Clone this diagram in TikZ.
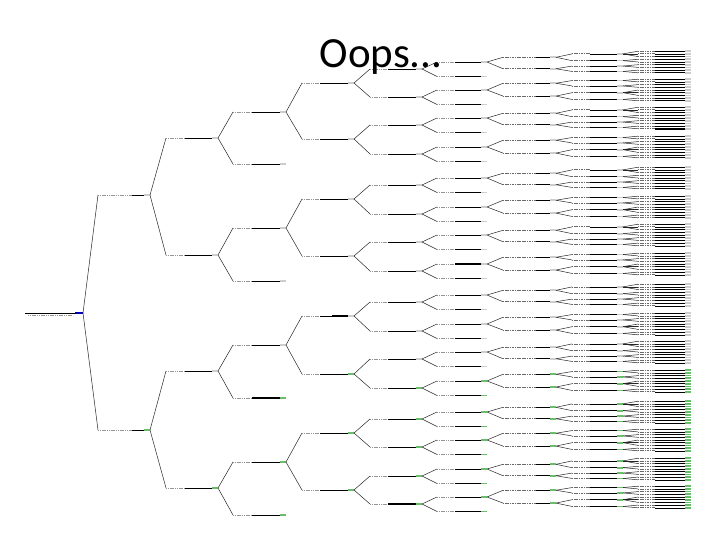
\documentclass[tikz,border=0pt]{standalone}
\usepackage{fontspec}
\setmainfont{Carlito}
\usetikzlibrary{calc}
\definecolor{gmark}{RGB}{105,190,105}
\definecolor{smark}{RGB}{205,205,205}
\definecolor{labc}{RGB}{150,150,150}
\definecolor{labd}{RGB}{105,105,105}
\tikzset{
  endcol/.store in=\endcol, hlw/.store in=\hlw,
  endcol=smark, hlw=0.6pt,
  gr/.style={endcol=gmark},
  bd/.style={hlw=1.8pt},
  conn/.style={draw=black!85, line width=0.5pt},
  lab/.style={draw=labc, line width=0.7pt, dash pattern=on 1.2pt off 0.6pt},
  labdark/.style={draw=labd, line width=0.8pt, dash pattern=on 1.2pt off 0.5pt},
  boldl/.style={draw=black, line width=1.8pt}
}
\newcommand\setlev[4]{\expandafter\def\csname xs#1\endcsname{#2}%
  \expandafter\def\csname xl#1\endcsname{#3}%
  \expandafter\def\csname xe#1\endcsname{#4}}
\setlev{1}{98}{132}{150}
\setlev{2}{166}{185}{218}
\setlev{3}{233}{252}{286}
\setlev{4}{302}{320}{354}
\setlev{5}{370}{388}{422}
\setlev{6}{437}{455}{487}
\setlev{7}{503}{536}{556}
\setlev{8}{572}{590}{623}
\setlev{9}{638}{655}{691}
% #1 style, #2 level, #3 parent, #4 child, #5 y
\newcommand\tedge[5][]{%
  \edef\exs{\csname xs#2\endcsname}\edef\exl{\csname xl#2\endcsname}\edef\exe{\csname xe#2\endcsname}%
  \ifnum#2>6 \def\labsty{labdark}\else\def\labsty{lab}\fi
  \coordinate (#4-s) at (\exs,#5);
  \coordinate (#4-l) at (\exl,#5);
  \coordinate (#4) at (\exe,#5);
  \coordinate (#4-m) at (\exe-6,#5);
  \begin{scope}[#1]
    \draw[conn] (#3) -- (#4-s);
    \draw[\labsty] (#4-s) -- (#4-l);
    \draw[draw=black, line width=\hlw] (#4-l) -- (#4-m);
    \draw[draw=\endcol, line width=1.7pt] (#4-m) -- (#4);
  \end{scope}}
% pattern A: 3,2,2,2
\newcommand\subA[3]{%
 \tedge[#1]{7}{#2}{#2a}{#3-4.7}
 \tedge[#1]{7}{#2}{#2b}{#3+6.75}
 \tedge[#1]{8}{#2a}{#2aa}{#3-8.1}
 \tedge[#1]{8}{#2a}{#2ab}{#3-1.35}
 \tedge[#1]{8}{#2b}{#2ba}{#3+4.05}
 \tedge[#1]{8}{#2b}{#2bb}{#3+9.45}
 \tedge[#1]{9}{#2aa}{#2aa1}{#3-10.8}
 \tedge[#1]{9}{#2aa}{#2aa2}{#3-8.1}
 \tedge[#1]{9}{#2aa}{#2aa3}{#3-5.4}
 \tedge[#1]{9}{#2ab}{#2ab1}{#3-2.7}
 \tedge[#1]{9}{#2ab}{#2ab2}{#3}
 \tedge[#1]{9}{#2ba}{#2ba1}{#3+2.7}
 \tedge[#1]{9}{#2ba}{#2ba2}{#3+5.4}
 \tedge[#1]{9}{#2bb}{#2bb1}{#3+8.1}
 \tedge[#1]{9}{#2bb}{#2bb2}{#3+10.8}}
% pattern B: 2,2,3,2
\newcommand\subB[3]{%
 \tedge[#1]{7}{#2}{#2a}{#3-6.75}
 \tedge[#1]{7}{#2}{#2b}{#3+6.075}
 \tedge[#1]{8}{#2a}{#2aa}{#3-9.45}
 \tedge[#1]{8}{#2a}{#2ab}{#3-4.05}
 \tedge[#1]{8}{#2b}{#2ba}{#3+2.7}
 \tedge[#1]{8}{#2b}{#2bb}{#3+9.45}
 \tedge[#1]{9}{#2aa}{#2aa1}{#3-10.8}
 \tedge[#1]{9}{#2aa}{#2aa2}{#3-8.1}
 \tedge[#1]{9}{#2ab}{#2ab1}{#3-5.4}
 \tedge[#1]{9}{#2ab}{#2ab2}{#3-2.7}
 \tedge[#1]{9}{#2ba}{#2ba1}{#3}
 \tedge[#1]{9}{#2ba}{#2ba2}{#3+2.7}
 \tedge[#1]{9}{#2ba}{#2ba3}{#3+5.4}
 \tedge[#1]{9}{#2bb}{#2bb1}{#3+8.1}
 \tedge[#1]{9}{#2bb}{#2bb2}{#3+10.8}}
% #1 style, #2 parent, #3 name, #4 y, #5 pattern
\newcommand\Lfive[5][]{%
  \tedge[#1]{5}{#2}{#3}{#4}
  \tedge[#1]{6}{#3}{#3c}{#4-7}
  \tedge[#1]{6}{#3}{#3l}{#4+7.5}
  \csname sub#5\endcsname{#1}{#3c}{#4-7}}
\begin{document}
\begin{tikzpicture}[x=1pt,y=-1pt]
\fill[white] (0,0) rectangle (720,540);
\useasboundingbox (0,0) rectangle (720,540);
% root
\coordinate (Rs) at (25,313);
\coordinate (Rb) at (75,313);
\coordinate (R) at (83,313);
\draw[draw=black, line width=0.6pt] (Rs) -- (Rb);
\draw[draw=blue!70!black, line width=1.2pt] (Rb) -- (R);
\draw[lab] ($(Rs)+(3,2.5)$) -- ($(Rb)+(-2,2.5)$);
% level 1
\tedge{1}{R}{A}{195}
\tedge[gr]{1}{R}{B}{430}
% level 2
\tedge{2}{A}{AA}{138}
\tedge{2}{A}{AB}{255}
\tedge{2}{B}{BA}{371}
\tedge[gr]{2}{B}{BB}{488}
% level 3
\tedge{3}{AA}{AAA}{112}
\tedge{3}{AA}{AAB}{164}
\tedge{3}{AB}{ABA}{228}
\tedge{3}{AB}{ABB}{281}
\tedge{3}{BA}{BAA}{345}
\tedge[gr,bd]{3}{BA}{BAB}{398}
\tedge[gr]{3}{BB}{BBA}{462}
\tedge[gr]{3}{BB}{BBB}{515}
% level 4
\tedge{4}{AAA}{P1}{83}
\tedge{4}{AAA}{P2}{139}
\tedge{4}{ABA}{P3}{199}
\tedge{4}{ABA}{P4}{256}
\tedge{4}{BAA}{P5}{316}
\tedge[gr]{4}{BAA}{P6}{374}
\tedge[gr]{4}{BBA}{P7}{433}
\tedge[gr]{4}{BBA}{P8}{490}
% levels 5-9
\Lfive{P1}{P1a}{69}{A}
\Lfive{P1}{P1b}{97}{B}
\Lfive{P2}{P2a}{125}{A}
\Lfive{P2}{P2b}{154}{B}
\Lfive{P3}{P3a}{185}{A}
\Lfive{P3}{P3b}{214}{B}
\Lfive{P4}{P4a}{242}{A}
\Lfive{P4}{P4b}{271}{B}
\Lfive{P5}{P5a}{302}{A}
\Lfive{P5}{P5b}{331}{B}
\Lfive{P6}{P6a}{359}{A}
\Lfive[gr]{P6}{P6b}{388}{B}
\Lfive[gr]{P7}{P7a}{419}{A}
\Lfive[gr]{P7}{P7b}{447}{B}
\Lfive[gr]{P8}{P8a}{476}{A}
\Lfive[gr]{P8}{P8b}{504}{B}
% bold segments
\draw[boldl] (P5-l) ++(12,0) -- (P5-m);
\draw[boldl] (P1al-l) -- (P1al-m);
\draw[boldl] (P4bc-l) -- (P4bc-m);
\draw[boldl] (P8b-l) -- (P8b-m);
\draw[boldl] (P2acbb2-l) -- (P2acbb2-m);
\draw[boldl] (P6bcaa-l) -- (P6bcaa-m);
% title
\node[anchor=base, inner sep=0pt, font=\fontsize{43}{50}\selectfont] (title) at (381,68) {Oops...};
\end{tikzpicture}
\end{document}
